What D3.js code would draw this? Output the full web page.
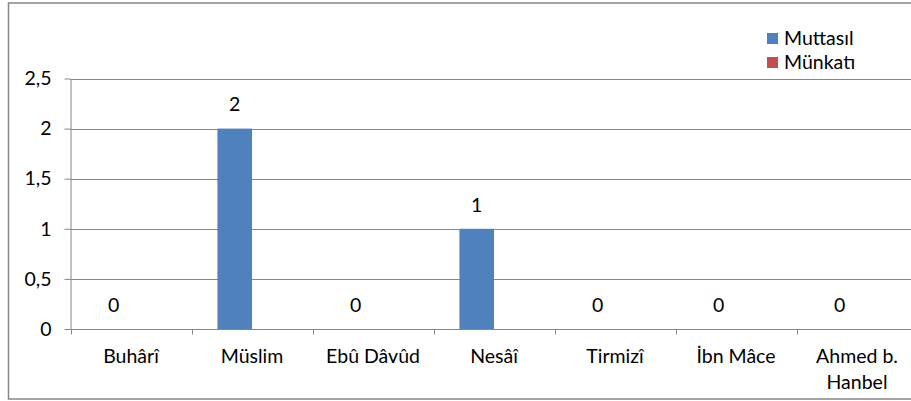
<!DOCTYPE html>
<html><head><meta charset="utf-8">
<script src="https://cdn.jsdelivr.net/npm/d3@7"></script>
<style>body{margin:0;background:#fff}svg{display:block;font-family:Lato,"Open Sans",sans-serif}</style>
</head><body><svg id="c" width="911" height="401"></svg>
<script>
const categories = ["Buhârî","Müslim","Ebû Dâvûd","Nesâî","Tirmizî","İbn Mâce","Ahmed b. Hanbel"];
const seriesNames = ["Muttasıl","Münkatı"];
const muttasil = [0,2,0,1,0,0,0];
const munkati = [0,0,0,0,0,0,0];
const yTicks = [0,0.5,1,1.5,2,2.5];
const yTickLabels = ["0","0,5","1","1,5","2","2,5"];
const colors = ["#4f81bd","#c0504d"];

(function(){
const FS = 19.5;
const svg = d3.select("#c");
const left = 70.5, bandW = 121, plotTop = 78.5, bottom = 329;
const x = d3.scaleBand().domain(categories).range([left, left + bandW*categories.length]).paddingInner(0).paddingOuter(0);
const y = d3.scaleLinear().domain([0,2.5]).range([bottom, plotTop]);
const x1 = d3.scaleBand().domain(seriesNames).range([0, bandW]).paddingInner(0).paddingOuter(0.75);

svg.append("rect").attr("x",8.5).attr("y",3).attr("width",920).attr("height",396)
  .attr("fill","none").attr("stroke","#868686").attr("stroke-width",1.5);

svg.append("g").selectAll("line").data(yTicks.filter(d=>d>0)).join("line")
  .attr("x1",left).attr("x2",911).attr("y1",d=>Math.round(y(d))+0.5).attr("y2",d=>Math.round(y(d))+0.5)
  .attr("stroke","#868686").attr("stroke-width",1);

const data = [muttasil, munkati];
categories.forEach((c,i)=>{
  seriesNames.forEach((s,j)=>{
    const v = data[j][i];
    svg.append("rect").attr("x",x(c)+x1(s)).attr("width",x1.bandwidth())
      .attr("y",y(v)).attr("height",y(0)-y(v)).attr("fill",colors[j]);
  });
});

const yAxis = d3.axisLeft(y).tickValues(yTicks).tickFormat((d,i)=>yTickLabels[i]).tickSize(6).tickSizeOuter(0);
const gy = svg.append("g").attr("transform",`translate(${left},0)`).call(yAxis);
gy.select(".domain").attr("stroke","#868686");
gy.selectAll(".tick line").attr("stroke","#868686");
gy.selectAll(".tick text").attr("font-size",FS).attr("fill","#000").attr("x",-19).attr("font-family","Lato,sans-serif");

const gx = svg.append("g").attr("transform",`translate(0,${bottom+0.5})`);
gx.append("line").attr("x1",left).attr("x2",911).attr("stroke","#868686");
const bounds = categories.map(c=>x(c)).concat([x(categories[categories.length-1])+bandW]);
gx.selectAll("line.tk").data(bounds).join("line").attr("class","tk")
  .attr("x1",d=>Math.round(d)+0.5).attr("x2",d=>Math.round(d)+0.5).attr("y1",0).attr("y2",5).attr("stroke","#868686");
const lbl = svg.append("g").selectAll("text").data(categories).join("text")
  .attr("text-anchor","middle").attr("font-size",FS).attr("fill","#000");
lbl.each(function(c){
  const t = d3.select(this);
  const cx = x(c)+bandW/2;
  const parts = c === "Ahmed b. Hanbel" ? ["Ahmed b.","Hanbel"] : [c];
  parts.forEach((p,k)=>t.append("tspan").attr("x",cx).attr("y",363+k*26).text(p));
});

svg.append("g").selectAll("text").data(categories).join("text")
  .attr("x",c=>x(c)+x1("Muttasıl")+x1.bandwidth()/2)
  .attr("y",(c,i)=>y(muttasil[i])-24).attr("dy","0.35em")
  .attr("text-anchor","middle").attr("font-size",FS).attr("fill","#000")
  .text((c,i)=>muttasil[i]);

const lg = svg.append("g");
seriesNames.forEach((s,i)=>{
  lg.append("rect").attr("x",767).attr("y",33+i*24).attr("width",11).attr("height",11).attr("fill",colors[i]);
  lg.append("text").attr("x",784).attr("y",44.5+i*24).attr("font-size",FS).attr("fill","#000").text(s);
});
})();
</script></body></html>
